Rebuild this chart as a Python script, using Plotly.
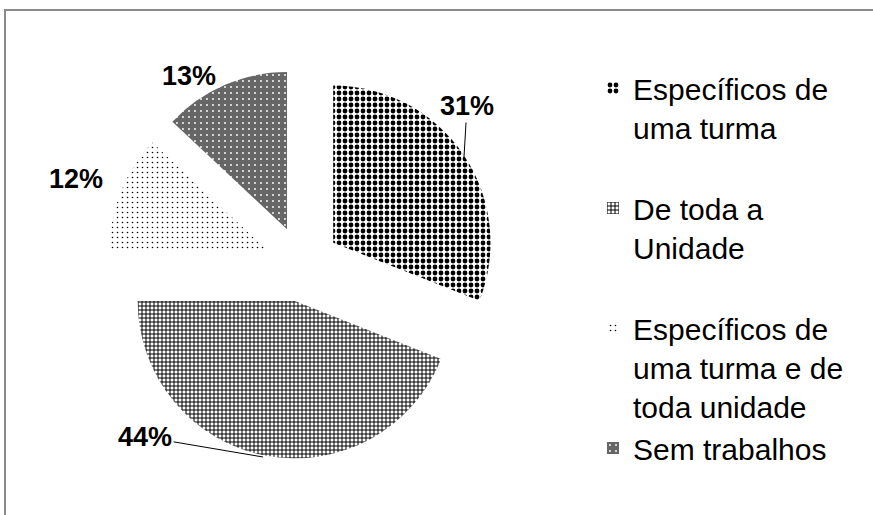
import plotly.graph_objects as go

# Data
categories = [
    "Específicos de<br>uma turma<br> ",
    "De toda a<br>Unidade<br> ",
    "Específicos de<br>uma turma e de<br>toda unidade",
    "Sem trabalhos",
]
values = [31, 44, 12, 13]
pct_labels = [f"{v}%" for v in values]

W, H = 873, 515


def px(x):
    return x / W


def py(y):
    return 1 - y / H


fig = go.Figure()
fig.add_trace(go.Pie(
    labels=categories,
    values=values,
    sort=False,
    direction="clockwise",
    rotation=0,
    pull=[0.24, 0.24, 0.24, 0.24],
    textinfo="none",
    hoverinfo="label+percent",
    marker=dict(
        colors=["white", "white", "white", "#666666"],
        line=dict(width=0),
        pattern=dict(
            shape=[".", "+", ".", "."],
            fgcolor=["black", "black", "black", "white"],
            bgcolor=["white", "white", "white", "#666666"],
            fgopacity=1,
            size=[6, 4, 5, 6],
            solidity=[0.5, 0.44, 0.08, 0.08],
            fillmode="replace",
        ),
    ),
    domain=dict(x=[px(107), px(497)], y=[py(459), py(69)]),
))

# Percent labels (placed beside slices, text from data)
label_pos = [
    # (text center x, y, arrow tip x, y) in pixels
    (467, 106, 464, 157),
    (145, 437, 263, 457),
    (76, 179, None, None),
    (189, 76, None, None),
]
lab_font = dict(family="Liberation Sans, Arial", size=27, color="black")
for txt, (tx, ty, ax, ay) in zip(pct_labels, label_pos):
    if ax is None:
        fig.add_annotation(x=px(tx), y=py(ty), xref="paper", yref="paper",
                           xanchor="center", yanchor="middle",
                           text=f"<b>{txt}</b>", showarrow=False, font=lab_font)
    else:
        fig.add_annotation(x=px(ax), y=py(ay), xref="paper", yref="paper",
                           ax=tx - ax, ay=ty - ay, axref="pixel", ayref="pixel",
                           xanchor="center", yanchor="middle",
                           text=f"<b>{txt}</b>", showarrow=True, arrowhead=0,
                           arrowwidth=1, arrowcolor="black", standoff=0,
                           font=lab_font)

# Outer frame
fig.add_shape(type="rect", xref="paper", yref="paper",
              x0=px(5), y0=py(530), x1=px(890), y1=py(10),
              line=dict(color="#8a8a8a", width=2), fillcolor="rgba(0,0,0,0)", layer="below")

fig.update_layout(
    width=W, height=H,
    margin=dict(l=0, r=0, t=0, b=0),
    paper_bgcolor="white",
    plot_bgcolor="white",
    showlegend=True,
    legend=dict(
        x=px(593), y=py(62), xanchor="left", yanchor="top",
        font=dict(family="Liberation Sans, Arial", size=30, color="black"),
        valign="top",
        bgcolor="rgba(0,0,0,0)",
    ),
)

fig.write_html(
    "out.html",
    config={"displayModeBar": False},
    post_script="document.body.style.margin='0';document.body.style.overflow='hidden';",
)
